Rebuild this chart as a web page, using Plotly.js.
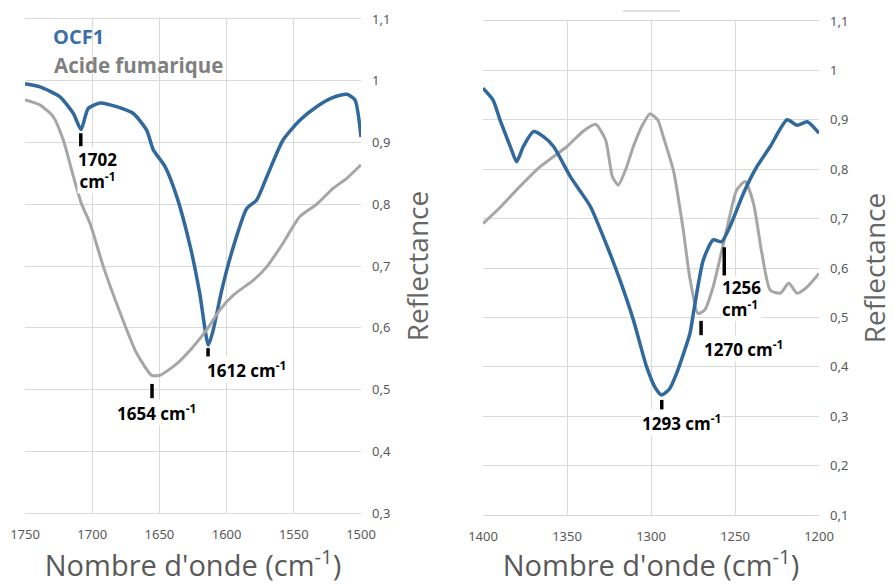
<!DOCTYPE html>
<html><head><meta charset="utf-8">
<script src="https://cdn.plot.ly/plotly-3.0.1.min.js"></script>
<style>html,body{margin:0;padding:0;background:#fff}#chart{width:893px;height:584px}</style>
</head><body><div id="chart"></div>
<script>
// ---- Left panel (1750-1500 cm-1) ----
const leftOcfX = [1750,1738.8,1724,1714,1708.3,1703,1694,1681.8,1669.4,1659.5,1654.5,1645.8,1637,1627,1620,1613.6,1610,1603.6,1595,1585,1577.6,1570,1558,1545.5,1533,1520.6,1510.6,1504.5,1500];
const leftOcfY = [0.995,0.99,0.974,0.947,0.921,0.955,0.964,0.958,0.947,0.92,0.888,0.861,0.812,0.731,0.656,0.572,0.596,0.661,0.731,0.793,0.807,0.845,0.904,0.936,0.958,0.973,0.978,0.969,0.909];
const leftAfX = [1750,1739,1729,1721.5,1714,1708,1701.6,1691.7,1679,1667,1655.7,1649.6,1637,1625,1615,1605,1595,1580,1570,1558,1545.5,1533,1520.6,1510.6,1500];
const leftAfY = [0.969,0.961,0.942,0.904,0.845,0.801,0.769,0.699,0.623,0.559,0.523,0.523,0.542,0.569,0.596,0.629,0.653,0.677,0.699,0.737,0.78,0.80,0.826,0.842,0.864];
// ---- Right panel (1400-1200 cm-1) ----
const rightOcfX = [1400,1394,1389.9,1383,1380,1376,1370,1364,1358,1348,1342,1336,1326,1318.5,1310.5,1302.6,1297,1293.6,1289,1284.7,1276.8,1274.8,1268.9,1263,1258,1253,1245,1237,1229,1219,1213,1207,1200];
const rightOcfY = [0.964,0.94,0.90,0.839,0.815,0.846,0.876,0.866,0.846,0.785,0.755,0.724,0.643,0.576,0.495,0.40,0.355,0.343,0.355,0.387,0.468,0.508,0.616,0.657,0.653,0.684,0.751,0.805,0.846,0.90,0.889,0.896,0.873];
const rightAfX = [1400,1390,1382,1366,1350,1340,1333,1327,1323,1319.5,1315,1310.5,1305,1300.6,1296,1292.7,1286.7,1280.8,1277,1272,1268,1263,1255,1249,1244,1239,1234,1229,1223,1218,1213,1207,1200];
const rightAfY = [0.690,0.722,0.751,0.805,0.846,0.878,0.891,0.859,0.785,0.768,0.800,0.846,0.890,0.912,0.900,0.866,0.798,0.677,0.582,0.508,0.515,0.562,0.677,0.758,0.775,0.731,0.63,0.555,0.549,0.569,0.549,0.562,0.589];

// Peak annotations: label text, label position, marker position
const leftPeakLabels = ["1702<br>cm<sup>-1</sup>","1654 cm<sup>-1</sup>","1612 cm<sup>-1</sup>"];
const leftLabelX = [1696.4,1652,1585];
const leftLabelY = [0.854,0.462,0.533];
const leftMarkX = [1708.5,1655.5,1613.8];
const leftMarkY0 = [0.915,0.509,0.567];
const leftMarkY1 = [0.894,0.486,0.553];
const rightPeakLabels = ["1256<br>cm<sup>-1</sup>","1270 cm<sup>-1</sup>","1293 cm<sup>-1</sup>"];
const rightLabelX = [1258.3,1245.2,1282.1];
const rightLabelY = [0.539,0.438,0.288];
const rightMarkX = [1256.4,1270.2,1293.6];
const rightMarkY0 = [0.642,0.493,0.333];
const rightMarkY1 = [0.584,0.464,0.313];

const seriesNames = ["OCF1","Acide fumarique"];
const BLUE = "#31699c", GRAY = "#a6a6a6";

const traces = [
  {x:leftOcfX,y:leftOcfY,xaxis:"x",yaxis:"y",mode:"lines",name:seriesNames[0],line:{color:BLUE,width:3.5,shape:"spline",smoothing:0.6}},
  {x:leftAfX,y:leftAfY,xaxis:"x",yaxis:"y",mode:"lines",name:seriesNames[1],line:{color:GRAY,width:3,shape:"spline",smoothing:0.6}},
  {x:rightAfX,y:rightAfY,xaxis:"x2",yaxis:"y2",mode:"lines",name:seriesNames[1],line:{color:GRAY,width:3,shape:"spline",smoothing:0.6}},
  {x:rightOcfX,y:rightOcfY,xaxis:"x2",yaxis:"y2",mode:"lines",name:seriesNames[0],line:{color:BLUE,width:3.5,shape:"spline",smoothing:0.6}}
];

const tickFont = {family:"Noto Sans, sans-serif",size:13,color:"#595959"};
const xTitle = {text:"Nombre d'onde (cm<sup>-1</sup>)",font:{family:"Open Sans, sans-serif",size:29,color:"#595959"},standoff:6};
const yTitle = {text:"Reflectance",font:{family:"Open Sans, sans-serif",size:28,color:"#666666"},standoff:18};
const gridC = "#d9d9d9";

function xa(domain, range){
  return {domain:domain,range:range,dtick:50,tick0:1200,showgrid:true,gridcolor:gridC,gridwidth:1,
    showline:true,linecolor:gridC,mirror:true,ticks:"",tickfont:tickFont,zeroline:false,ticklabelstandoff:9,title:xTitle,fixedrange:true};
}
function ya(anchor, domain, range){
  return {anchor:anchor,side:"right",domain:domain,range:range,dtick:0.1,tick0:0,showgrid:true,gridcolor:gridC,
    showline:false,ticks:"",tickfont:tickFont,zeroline:false,ticklabelstandoff:10,title:yTitle,fixedrange:true};
}

const annotations = [];
const shapes = [];
function addPeaks(labels, lx, ly, mx, my0, my1, xr, yr, anchors){
  labels.forEach((t,i)=>{
    annotations.push({text:"<b>"+t+"</b>",x:lx[i],y:ly[i],xref:xr,yref:yr,showarrow:false,
      xanchor:anchors[i],yanchor:"middle",align:anchors[i]==="left"?"left":"center",
      font:{family:"Open Sans, sans-serif",size:17,color:"#000"},bgcolor:"#ffffff",borderpad:0});
    shapes.push({type:"line",xref:xr,yref:yr,x0:mx[i],x1:mx[i],y0:my0[i],y1:my1[i],line:{color:"#000",width:3.5}});
  });
}
addPeaks(leftPeakLabels,leftLabelX,leftLabelY,leftMarkX,leftMarkY0,leftMarkY1,"x","y",["center","center","center"]);
addPeaks(rightPeakLabels,rightLabelX,rightLabelY,rightMarkX,rightMarkY0,rightMarkY1,"x2","y2",["left","center","center"]);

// legend-like labels
annotations.push({text:"<b>"+seriesNames[0]+"</b>",xref:"paper",yref:"paper",x:51/893,y:1-(37-19)/496,xanchor:"left",yanchor:"middle",showarrow:false,font:{family:"Open Sans, sans-serif",size:20,color:"#3a6fa8"}});
annotations.push({text:"<b>"+seriesNames[1]+"</b>",xref:"paper",yref:"paper",x:52/893,y:1-(65-19)/496,xanchor:"left",yanchor:"middle",showarrow:false,font:{family:"Open Sans, sans-serif",size:20.5,color:"#808080"}});
// stray line above right panel
shapes.push({type:"line",xref:"paper",yref:"paper",x0:623/893,x1:680/893,y0:1+(19-11)/496,y1:1+(19-11)/496,line:{color:"#bfbfbf",width:1}});

const layout = {
  width:893,height:584,margin:{l:0,r:0,t:19,b:69},
  paper_bgcolor:"#fff",plot_bgcolor:"#fff",showlegend:false,separators:", ",
  xaxis:xa([25/893,361/893],[1750,1500]),
  yaxis:ya("x",[2/496,1],[0.3,1.1]),
  xaxis2:xa([483/893,819/893],[1400,1200]),
  yaxis2:ya("x2",[0,1-2/496],[0.1,1.1]),
  annotations:annotations,shapes:shapes
};
layout.xaxis2.anchor="y2";
layout.xaxis.anchor="y";
Plotly.newPlot("chart",traces,layout,{displayModeBar:false,staticPlot:true});
</script>
</body></html>
